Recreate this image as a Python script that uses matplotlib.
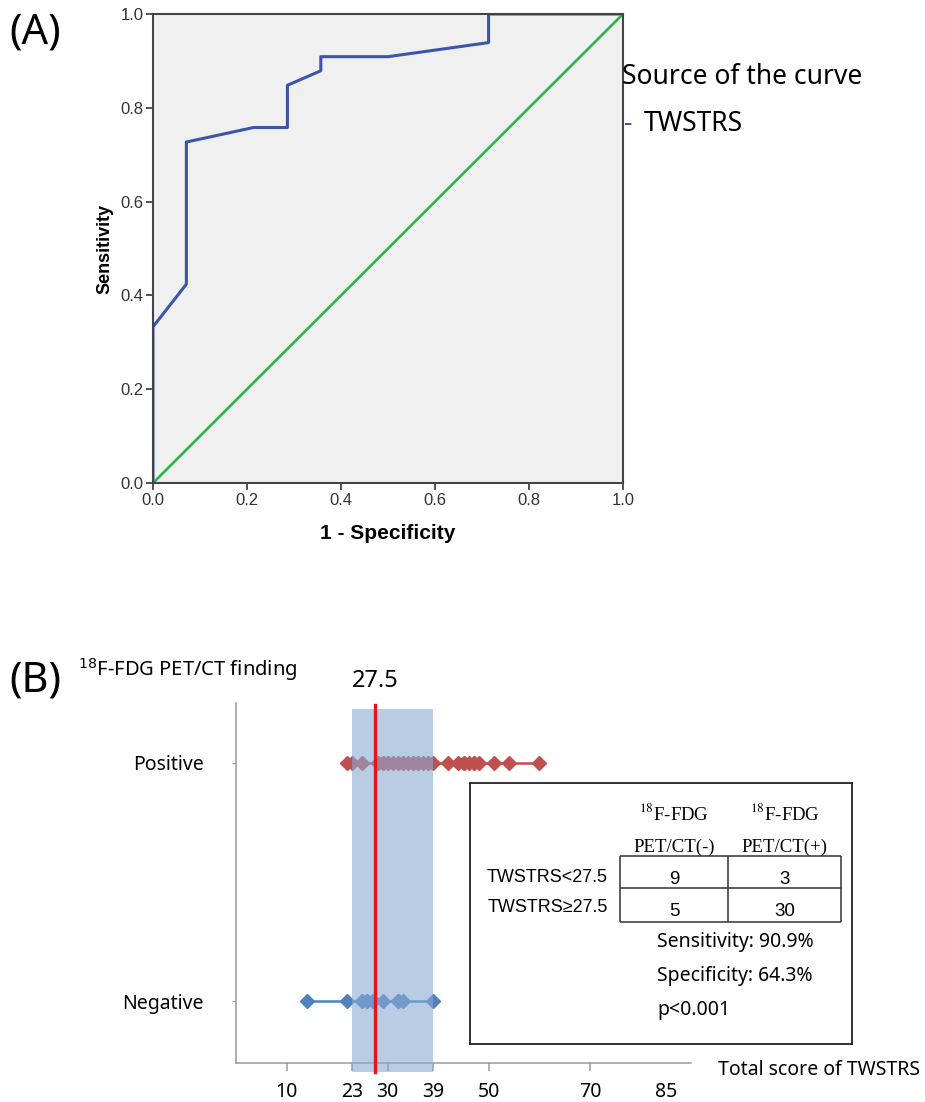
import matplotlib
matplotlib.use("Agg")
import matplotlib.pyplot as plt
from matplotlib.ticker import FormatStrFormatter

# ---- panel A: ROC curve (14 negatives, 33 positives)
fpr = [0.0, 0.0, 0.071, 0.071, 0.214, 0.286, 0.286, 0.357, 0.357, 0.5, 0.714, 0.714, 1.0]
tpr = [0.0, 0.333, 0.424, 0.727, 0.758, 0.758, 0.848, 0.879, 0.909, 0.909, 0.939, 1.0, 1.0]
ref_line = [0.0, 1.0]
roc_ticks = [0.0, 0.2, 0.4, 0.6, 0.8, 1.0]

# ---- panel B: TWSTRS scores by PET/CT finding
pos_scores = [22, 23, 25, 28, 28, 29, 29, 30, 30, 31, 32, 33, 33, 34, 35, 35, 36,
              36, 37, 38, 38, 39, 42, 44, 45, 45, 46, 47, 47, 48, 51, 54, 60]
neg_scores = [14, 22, 25, 25, 26, 26, 27, 27, 27, 29, 32, 32, 33, 39]
group_labels = ["Negative", "Positive"]
cutoff = 27.5
band = (23, 39)
score_ticks = [10, 23, 30, 39, 50, 70, 85]

# ---- table in panel B
col_heads = ["PET/CT(-)", "PET/CT(+)"]
row_heads = ["TWSTRS<27.5", "TWSTRS\u226527.5"]
counts = [[9, 3], [5, 30]]
stats_lines = ["Sensitivity: 90.9%", "Specificity: 64.3%", "p<0.001"]

W, H = 925, 1102
fig = plt.figure(figsize=(W / 100, H / 100), dpi=100)

def fx(px):
    return px / W

def fy(py):
    return 1 - py / H

NOTO = ["Noto Sans", "DejaVu Sans"]
ARIAL = ["Liberation Sans", "DejaVu Sans"]
TIMES = ["Liberation Serif", "DejaVu Serif"]

# ================= (A) =================
axA = fig.add_axes([fx(153), fy(483), fx(470), 469 / H])
axA.set_facecolor("#F0F0F0")
axA.plot(fpr, tpr, color="#3D55A8", lw=2.2)
axA.plot(ref_line, ref_line, color="#2DB34A", lw=1.9)
axA.set_xlim(0, 1)
axA.set_ylim(0, 1)
axA.set_xticks(roc_ticks)
axA.set_yticks(roc_ticks)
axA.xaxis.set_major_formatter(FormatStrFormatter("%.1f"))
axA.yaxis.set_major_formatter(FormatStrFormatter("%.1f"))
for sp in axA.spines.values():
    sp.set_color("#444444")
    sp.set_linewidth(1.5)
axA.tick_params(direction="out", length=5, width=1.3, color="#444444",
                labelsize=12, labelcolor="#333333", pad=2)
for lab in axA.get_xticklabels() + axA.get_yticklabels():
    lab.set_family(ARIAL)
axA.set_xlabel("1 - Specificity", fontsize=15, fontweight="bold",
               family=ARIAL, labelpad=12)
axA.set_ylabel("Sensitivity", fontsize=13, fontweight="bold",
               family=ARIAL, labelpad=5)

fig.text(fx(9), fy(32), "(A)", fontsize=30, family=NOTO, va="center", ha="left")
fig.text(fx(622), fy(77), "Source of the curve", fontsize=19, family=NOTO,
         va="center", ha="left")
fig.text(fx(624), fy(124), "-", fontsize=19, family=NOTO, color="#3D55A8",
         va="center", ha="left")
fig.text(fx(644), fy(124), "TWSTRS", fontsize=19, family=NOTO,
         va="center", ha="left")

# ================= (B) =================
axB = fig.add_axes([fx(236), fy(1063), fx(455), 360 / H])
axB.set_xlim(0, 90)
axB.set_ylim(-0.26, 1.25)
axB.plot(pos_scores, [1] * len(pos_scores), marker="D", ms=7.5, lw=1.8,
         color="#C0504D", zorder=2, clip_on=False)
axB.plot(neg_scores, [0] * len(neg_scores), marker="D", ms=7.5, lw=1.8,
         color="#4F81BD", zorder=2, clip_on=False)
span = axB.axvspan(band[0], band[1], ymin=-0.025, ymax=0.983,
                   color="#89AAD2", alpha=0.6, lw=0, zorder=3)
span.set_clip_on(False)
axB.axvline(cutoff, ymin=-0.025, ymax=0.994, color="#E8141B", lw=2.4,
            zorder=4, clip_on=False)
axB.text(cutoff, 1.045, "27.5", transform=axB.get_xaxis_transform(),
         ha="center", va="baseline", fontsize=17, family=NOTO)

for s in ["top", "right"]:
    axB.spines[s].set_visible(False)
for s in ["left", "bottom"]:
    axB.spines[s].set_color("#9A9A9A")
    axB.spines[s].set_linewidth(1.1)

axB.set_yticks([0, 1])
axB.set_yticklabels(group_labels, fontsize=14, family=NOTO)
axB.tick_params(axis="y", length=3, color="#9A9A9A", pad=20)
axB.set_xticks(score_ticks)
axB.set_xticklabels([str(t) for t in score_ticks], fontsize=14, family=NOTO)
axB.tick_params(axis="x", length=6, width=1.1, color="#9A9A9A", pad=8)
for t, v in zip(axB.xaxis.get_major_ticks(), score_ticks):
    if v in band:
        t.tick1line.set_color("black")
        t.tick1line.set_zorder(5)
    if v == 85:
        t.tick1line.set_visible(False)

fig.text(fx(9), fy(680), "(B)", fontsize=30, family=NOTO, va="center", ha="left")
fig.text(fx(78), fy(670), r"$^{18}$F-FDG PET/CT finding", fontsize=14.5,
         family=NOTO, math_fontfamily="dejavusans", va="center", ha="left")
fig.text(fx(718), fy(1070), "Total score of TWSTRS", fontsize=14, family=NOTO,
         va="center", ha="left")

# ---- table box
axT = fig.add_axes([fx(470), fy(1044), fx(382), 261 / H])
axT.set_xlim(0, 382)
axT.set_ylim(261, 0)
axT.set_xticks([])
axT.set_yticks([])
axT.patch.set_alpha(0)
for sp in axT.spines.values():
    sp.set_color("#222222")
    sp.set_linewidth(1.3)

col_x = [150, 258, 371]
row_y = [73, 105, 139]
axT.hlines(row_y, col_x[0], col_x[-1], color="#333333", lw=1.1)
axT.vlines(col_x, row_y[0], row_y[-1], color="#333333", lw=1.1)
for j, head in enumerate(col_heads):
    cx = (col_x[j] + col_x[j + 1]) / 2
    axT.text(cx, 30, r"$^{18}$F-FDG", ha="center", va="center", fontsize=13.5,
             family=TIMES, math_fontfamily="stix")
    axT.text(cx, 64, head, ha="center", va="center", fontsize=13.5, family=TIMES)
    for i in range(len(row_heads)):
        axT.text(cx, row_y[i] + 23, str(counts[i][j]), ha="center", va="center",
                 fontsize=13.5, family=ARIAL)
for i, lab in enumerate(row_heads):
    axT.text(138, row_y[i] + 22 - 3 * i, lab, ha="right", va="center",
             fontsize=13, family=ARIAL)
for k, line in enumerate(stats_lines):
    axT.text(187, 159 + 34 * k, line, ha="left", va="center", fontsize=14,
             family=NOTO)

fig.savefig("out.png", dpi=100)
